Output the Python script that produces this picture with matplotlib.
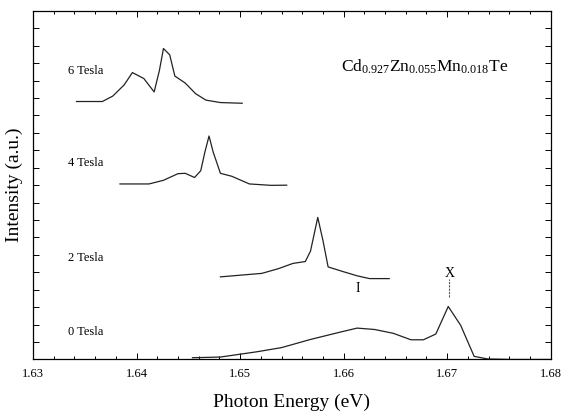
import matplotlib
matplotlib.use("Agg")
import matplotlib.pyplot as plt
from matplotlib.ticker import MultipleLocator

plt.rcParams['font.family'] = ['Liberation Serif', 'DejaVu Serif']
plt.rcParams['mathtext.fontset'] = 'custom'
plt.rcParams['mathtext.rm'] = 'Liberation Serif'
plt.rcParams['mathtext.it'] = 'Liberation Serif'

# ---- data (photon energy in eV, intensity in arbitrary units, curves offset) ----
e0 = [1.6454, 1.6481, 1.6516, 1.6540, 1.6568, 1.6596, 1.6613, 1.6630, 1.6648,
      1.6665, 1.6677, 1.6689, 1.6701, 1.6713, 1.6726, 1.6739, 1.6762, 1.6800]
i0 = [0.10, 0.14, 0.44, 0.68, 1.15, 1.56, 1.80, 1.72, 1.50,
      1.13, 1.13, 1.46, 3.04, 1.96, 0.18, 0.03, 0.0, 0.0]

e2 = [1.6481, 1.6521, 1.6537, 1.6551, 1.6563, 1.6568, 1.6575, 1.6580, 1.6585,
      1.6599, 1.6613, 1.6625, 1.6644]
i2 = [4.74, 4.94, 5.21, 5.51, 5.62, 6.22, 8.15, 6.83, 5.31,
      5.05, 4.80, 4.64, 4.64]

e4 = [1.6384, 1.6412, 1.6426, 1.6440, 1.6447, 1.6456, 1.6462, 1.6466, 1.6470,
      1.6474, 1.6481, 1.6492, 1.6509, 1.6530, 1.6545]
i4 = [10.07, 10.07, 10.28, 10.66, 10.68, 10.44, 10.83, 11.90, 12.82,
      11.90, 10.68, 10.51, 10.07, 9.99, 10.00]

e6 = [1.6342, 1.6367, 1.6377, 1.6388, 1.6396, 1.6407, 1.6417, 1.6422, 1.6426,
      1.6432, 1.6437, 1.6447, 1.6457, 1.6467, 1.6481, 1.6502]
i6 = [14.80, 14.80, 15.11, 15.75, 16.46, 16.12, 15.35, 16.56, 17.84,
      17.48, 16.26, 15.86, 15.25, 14.88, 14.74, 14.70]

curve_labels = ["0 Tesla", "2 Tesla", "4 Tesla", "6 Tesla"]
label_y = [1.56, 5.82, 11.25, 16.56]
xticks = [1.63, 1.64, 1.65, 1.66, 1.67, 1.68]
xtick_labels = ["1.63", "1.64", "1.65", "1.66", "1.67", "1.68"]

fig = plt.figure(figsize=(5.62, 4.18), dpi=100)
ax = fig.add_axes([0.0587, 0.140, 0.9213, 0.834])

for e, i in [(e0, i0), (e2, i2), (e4, i4), (e6, i6)]:
    ax.plot(e, i, color='#222222', lw=0.9)

for lab, y in zip(curve_labels, label_y):
    ax.text(1.6334, y, lab, fontsize=9, va='center', ha='left')

ax.text(1.6597, 16.8,
        r'Cd$_{\mathrm{0.927}}$Zn$_{\mathrm{0.055}}$Mn$_{\mathrm{0.018}}$Te',
        fontsize=12.5, va='center', ha='left')

# exciton / impurity markers
ax.text(1.6702, 4.94, "X", fontsize=10, ha='center', va='center')
ax.plot([1.6702, 1.6702], [3.59, 4.60], color='#555555', lw=0.8, ls=(0, (2, 1)))
ax.text(1.6614, 4.09, "I", fontsize=10, ha='center', va='center')

ax.set_xlim(1.63, 1.68)
ax.set_ylim(0, 20)
ax.set_xticks(xticks)
ax.set_xticklabels(xtick_labels, fontsize=9)
ax.xaxis.set_minor_locator(MultipleLocator(0.002))
ax.yaxis.set_major_locator(MultipleLocator(1))
ax.set_yticklabels([])
ax.tick_params(which='both', direction='in', top=True, right=True, width=0.7)
ax.tick_params(which='major', length=4)
ax.tick_params(which='minor', length=2.5)
ax.tick_params(axis='x', pad=6)
for s in ax.spines.values():
    s.set_linewidth(0.9)

ax.set_xlabel("Photon Energy (eV)", fontsize=14, labelpad=10)
ax.set_ylabel("Intensity (a.u.)", fontsize=14, labelpad=4)

fig.savefig("out.png", dpi=100)
